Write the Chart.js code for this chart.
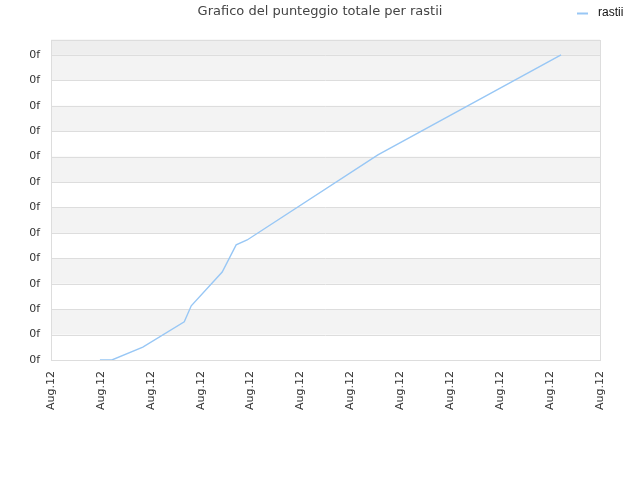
<!DOCTYPE html>
<html>
<head>
<meta charset="utf-8">
<script src="https://cdn.jsdelivr.net/npm/chart.js@4"></script>
<style>
  body { margin: 0; background: #fff; }
  #wrap { width: 640px; height: 480px; }
</style>
</head>
<body>
<div id="wrap"><canvas id="canvas1"></canvas></div>
<script>
const seriesName = "rastii";
const xLabels = ["Aug.12", "Aug.12", "Aug.12", "Aug.12", "Aug.12", "Aug.12",
    "Aug.12", "Aug.12", "Aug.12", "Aug.12", "Aug.12", "Aug.12"];
const yLabels = ["0f", "0f", "0f", "0f", "0f", "0f", "0f", "0f", "0f", "0f", "0f", "0f", "0f"];
// positions along the x axis (0 = first Aug.12 label) and scores
const xValues = [0.98, 1.22, 1.84, 2.67, 2.81, 3.43, 3.71, 3.93, 6.55, 10.22];
const yValues = [0, 0, 0.51, 1.50, 2.13, 3.46, 4.53, 4.72, 8.07, 12.0];

const points = xValues.map(function(x, i){
    return {x: x, y: yValues[i]};
});

// alternating bands + frame behind the line
const bands = {
    id: "bands",
    beforeDatasetsDraw: function(chart){
        const ctx = chart.ctx;
        const area = chart.chartArea;
        const y = chart.scales.y;
        ctx.save();
        for(let i = 0; i < yLabels.length - 1; i++){
            if(i % 2 === 1){
                const top = y.getPixelForValue(i + 1);
                const bottom = y.getPixelForValue(i);
                ctx.fillStyle = "#f3f3f3";
                ctx.fillRect(area.left, top, area.right - area.left, bottom - top);
            }
        }
        const lastTick = y.getPixelForValue(yLabels.length - 1);
        ctx.fillStyle = "#eeeeee";
        ctx.fillRect(area.left, area.top, area.right - area.left, lastTick - area.top);
        // grid lines over the bands
        ctx.strokeStyle = "#dddddd";
        ctx.lineWidth = 1;
        for(let i = 0; i < yLabels.length; i++){
            const py = Math.round(y.getPixelForValue(i)) + 0.5;
            ctx.beginPath();
            ctx.moveTo(area.left, py);
            ctx.lineTo(area.right, py);
            ctx.stroke();
        }
        ctx.strokeRect(Math.round(area.left) + 0.5, Math.round(area.top) + 0.5,
            Math.round(area.right - area.left), Math.round(area.bottom - area.top));
        ctx.restore();
    }
};

// legend drawn beside the title
const sideLegend = {
    id: "sideLegend",
    afterDraw: function(chart){
        const ctx = chart.ctx;
        const ds = chart.data.datasets[0];
        ctx.save();
        ctx.strokeStyle = ds.borderColor;
        ctx.lineWidth = 2;
        ctx.beginPath();
        ctx.moveTo(577, 13.5);
        ctx.lineTo(588, 13.5);
        ctx.stroke();
        ctx.fillStyle = "#111";
        ctx.font = "12px 'Liberation Sans'";
        ctx.textBaseline = "middle";
        ctx.fillText(ds.label, 598, 13);
        ctx.restore();
    }
};

const config = {
    type: "line",
    data: {
        datasets: [
            {
                label: seriesName,
                data: points,
                borderColor: "#98c7f5",
                borderWidth: 1.4,
                pointRadius: 0,
                fill: false,
                tension: 0
            }
        ]
    },
    options: {
        responsive: false,
        animation: false,
        layout: {padding: 0},
        plugins: {
            legend: {display: false},
            tooltip: {enabled: false},
            title: {
                display: true,
                text: "Grafico del punteggio totale per rastii",
                color: "#444",
                font: {family: "'DejaVu Sans'", size: 13, weight: "normal"},
                padding: {top: 4, bottom: 20}
            }
        },
        scales: {
            x: {
                type: "linear",
                min: 0,
                max: xLabels.length - 1,
                grid: {display: false, drawTicks: false},
                border: {display: false},
                afterFit: function(scale){ scale.height = 120; },
                afterBuildTicks: function(scale){
                    scale.ticks = xLabels.map(function(l, i){ return {value: i}; });
                },
                ticks: {
                    stepSize: 1,
                    autoSkip: false,
                    minRotation: 90,
                    maxRotation: 90,
                    padding: 11,
                    color: "#333",
                    font: {family: "'DejaVu Sans'", size: 11},
                    callback: function(v, i){ return xLabels[i]; }
                }
            },
            y: {
                type: "linear",
                min: 0,
                max: 12.6,
                grid: {display: false, drawTicks: false},
                border: {display: false},
                afterFit: function(scale){ scale.width = 51; },
                afterBuildTicks: function(scale){
                    scale.ticks = yLabels.map(function(l, i){ return {value: i}; });
                },
                ticks: {
                    stepSize: 1,
                    autoSkip: false,
                    padding: 11,
                    color: "#333",
                    font: {family: "'DejaVu Sans'", size: 11},
                    callback: function(v, i){ return yLabels[i]; }
                }
            },
            // empty right-hand margin so the title stays centred on the page
            yRight: {
                type: "linear",
                position: "right",
                grid: {display: false, drawTicks: false},
                border: {display: false},
                ticks: {display: false},
                afterFit: function(scale){ scale.width = 40; }
            }
        }
    },
    plugins: [bands, sideLegend]
};

const canvas = document.getElementById("canvas1");
canvas.width = 640;
canvas.height = 480;
new Chart(canvas, config);
</script>
</body>
</html>
